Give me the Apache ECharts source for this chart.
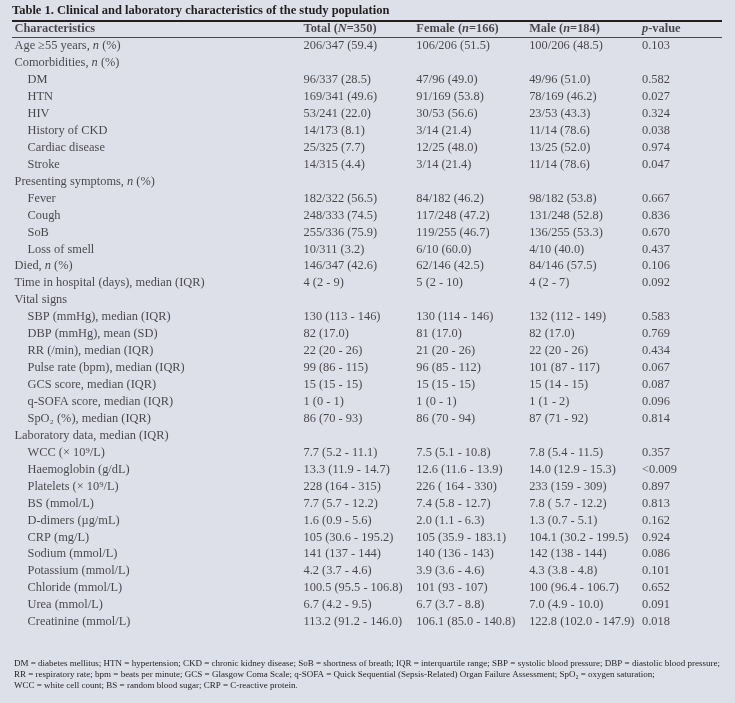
<!DOCTYPE html>
<html>
<head>
<meta charset="utf-8">
<script src="https://cdn.jsdelivr.net/npm/echarts@6/dist/echarts.min.js"></script>
<style>
  html, body { margin: 0; padding: 0; background: #dde0e9; }
  #chart { width: 735px; height: 703px; }
</style>
</head>
<body>
<div id="chart"></div>
<script>
// *x* marks italic text
var headers = ['Characteristics', 'Total (*N*=350)', 'Female (*n*=166)', 'Male (*n*=184)', '*p*-value']

var characteristics = [
    'Age \u226555 years, *n* (%)', 'Comorbidities, *n* (%)', 'DM', 'HTN', 'HIV', 'History of CKD',
    'Cardiac disease', 'Stroke', 'Presenting symptoms, *n* (%)', 'Fever', 'Cough', 'SoB', 'Loss of smell',
    'Died, *n* (%)', 'Time in hospital (days), median (IQR)', 'Vital signs', 'SBP (mmHg), median (IQR)',
    'DBP (mmHg), mean (SD)', 'RR (/min), median (IQR)', 'Pulse rate (bpm), median (IQR)',
    'GCS score, median (IQR)', 'q-SOFA score, median (IQR)', 'SpO\u2082 (%), median (IQR)',
    'Laboratory data, median (IQR)', 'WCC (\u00d7 10\u2079/L)', 'Haemoglobin (g/dL)', 'Platelets (\u00d7 10\u2079/L)',
    'BS (mmol/L)', 'D-dimers (\u00b5g/mL)', 'CRP (mg/L)', 'Sodium (mmol/L)', 'Potassium (mmol/L)',
    'Chloride (mmol/L)', 'Urea (mmol/L)', 'Creatinine (mmol/L)'
]
// 0 = group row, 1 = indented sub row
var levels = [0, 0, 1, 1, 1, 1, 1, 1, 0, 1, 1, 1, 1, 0, 0, 0, 1, 1, 1, 1, 1, 1, 1, 0, 1, 1, 1, 1, 1, 1, 1, 1, 1, 1, 1]

var total = [
    '206/347 (59.4)', '', '96/337 (28.5)', '169/341 (49.6)', '53/241 (22.0)', '14/173 (8.1)', '25/325 (7.7)',
    '14/315 (4.4)', '', '182/322 (56.5)', '248/333 (74.5)', '255/336 (75.9)', '10/311 (3.2)', '146/347 (42.6)',
    '4 (2 - 9)', '', '130 (113 - 146)', '82 (17.0)', '22 (20 - 26)', '99 (86 - 115)', '15 (15 - 15)',
    '1 (0 - 1)', '86 (70 - 93)', '', '7.7 (5.2 - 11.1)', '13.3 (11.9 - 14.7)', '228 (164 - 315)',
    '7.7 (5.7 - 12.2)', '1.6 (0.9 - 5.6)', '105 (30.6 - 195.2)', '141 (137 - 144)', '4.2 (3.7 - 4.6)',
    '100.5 (95.5 - 106.8)', '6.7 (4.2 - 9.5)', '113.2 (91.2 - 146.0)'
]
var female = [
    '106/206 (51.5)', '', '47/96 (49.0)', '91/169 (53.8)', '30/53 (56.6)', '3/14 (21.4)', '12/25 (48.0)',
    '3/14 (21.4)', '', '84/182 (46.2)', '117/248 (47.2)', '119/255 (46.7)', '6/10 (60.0)', '62/146 (42.5)',
    '5 (2 - 10)', '', '130 (114 - 146)', '81 (17.0)', '21 (20 - 26)', '96 (85 - 112)', '15 (15 - 15)',
    '1 (0 - 1)', '86 (70 - 94)', '', '7.5 (5.1 - 10.8)', '12.6 (11.6 - 13.9)', '226 ( 164 - 330)',
    '7.4 (5.8 - 12.7)', '2.0 (1.1 - 6.3)', '105 (35.9 - 183.1)', '140 (136 - 143)', '3.9 (3.6 - 4.6)',
    '101 (93 - 107)', '6.7 (3.7 - 8.8)', '106.1 (85.0 - 140.8)'
]
var male = [
    '100/206 (48.5)', '', '49/96 (51.0)', '78/169 (46.2)', '23/53 (43.3)', '11/14 (78.6)', '13/25 (52.0)',
    '11/14 (78.6)', '', '98/182 (53.8)', '131/248 (52.8)', '136/255 (53.3)', '4/10 (40.0)', '84/146 (57.5)',
    '4 (2 - 7)', '', '132 (112 - 149)', '82 (17.0)', '22 (20 - 26)', '101 (87 - 117)', '15 (14 - 15)',
    '1 (1 - 2)', '87 (71 - 92)', '', '7.8 (5.4 - 11.5)', '14.0 (12.9 - 15.3)', '233 (159 - 309)',
    '7.8 ( 5.7 - 12.2)', '1.3 (0.7 - 5.1)', '104.1 (30.2 - 199.5)', '142 (138 - 144)', '4.3 (3.8 - 4.8)',
    '100 (96.4 - 106.7)', '7.0 (4.9 - 10.0)', '122.8 (102.0 - 147.9)'
]
var pValues = [
    '0.103', '', '0.582', '0.027', '0.324', '0.038', '0.974', '0.047', '', '0.667', '0.836', '0.670', '0.437',
    '0.106', '0.092', '', '0.583', '0.769', '0.434', '0.067', '0.087', '0.096', '0.814', '', '0.357', '<0.009',
    '0.897', '0.813', '0.162', '0.924', '0.086', '0.101', '0.652', '0.091', '0.018'
]
var footnotes = [
    'DM = diabetes mellitus; HTN = hypertension; CKD = chronic kidney disease; SoB = shortness of breath; IQR = interquartile range; SBP = systolic blood pressure; DBP = diastolic blood pressure;',
    'RR = respiratory rate; bpm = beats per minute; GCS = Glasgow Coma Scale; q-SOFA = Quick Sequential (Sepsis-Related) Organ Failure Assessment; SpO\u2082 = oxygen saturation;',
    'WCC = white cell count; BS = random blood sugar; CRP = C-reactive protein.'
]

var FONT = '"Liberation Serif", "DejaVu Serif", serif'
var INK = '#231f20'

// turn *x* into rich italic pieces
function rich(str, bold) {
    return str.split('*').map((s, i) => {
        if (!s) return ''
        var k = (i % 2 ? 'i' : 'r') + (bold ? 'b' : '')
        return '{' + k + '|' + s.replace(/[{}|]/g, '') + '}'
    }).join('')
}
var richStyles = {
    r: { fontFamily: FONT, fontSize: 12.4, color: INK },
    i: { fontFamily: FONT, fontSize: 12.4, color: INK, fontStyle: 'italic' },
    rb: { fontFamily: FONT, fontSize: 12.4, color: INK, fontWeight: 'bold' },
    ib: { fontFamily: FONT, fontSize: 12.4, color: INK, fontWeight: 'bold', fontStyle: 'italic' }
}

var rows = ['header'].concat(characteristics.map((c, i) => 'r' + i))
var cols = [total, female, male, pValues]

var leftData = [{ value: [0, 0], name: rich(headers[0], true) }]
characteristics.forEach((c, i) => leftData.push({ value: [levels[i], i + 1], name: rich(c, false) }))

var rightData = []
headers.slice(1).forEach((h, j) => rightData.push({ value: [j, 0], name: rich(h, true) }))
cols.forEach((col, j) => col.forEach((v, i) => {
    if (v) rightData.push({ value: [j, i + 1], name: rich(v, false) })
}))

var label = {
    show: true, position: 'right', distance: 0, align: 'left', verticalAlign: 'middle',
    formatter: p => p.name, rich: richStyles
}

var myChart = echarts.init(document.getElementById('chart'))
myChart.setOption({
    backgroundColor: '#dde0e9',
    animation: false,
    title: {
        text: 'Table 1. Clinical and laboratory characteristics of the study population',
        left: 12, top: 4, padding: 0,
        textStyle: { fontFamily: FONT, fontSize: 12.5, fontWeight: 'bold', color: INK }
    },
    grid: [
        { left: 14, top: 29, width: 13, height: 593 },
        { left: 303, top: 29, width: 338.5, height: 593 }
    ],
    xAxis: [
        { gridIndex: 0, type: 'value', min: 0, max: 1, show: false },
        { gridIndex: 1, type: 'category', data: ['total', 'female', 'male', 'p'], boundaryGap: false, show: false }
    ],
    yAxis: [
        { gridIndex: 0, type: 'category', data: rows, inverse: true, boundaryGap: false, show: false },
        { gridIndex: 1, type: 'category', data: rows, inverse: true, boundaryGap: false, show: false }
    ],
    series: [
        {
            type: 'scatter', xAxisIndex: 0, yAxisIndex: 0, data: leftData, silent: true,
            symbolSize: 1, itemStyle: { color: 'rgba(0,0,0,0)' }, label: label
        },
        {
            type: 'scatter', xAxisIndex: 1, yAxisIndex: 1, data: rightData, silent: true,
            symbolSize: 1, itemStyle: { color: 'rgba(0,0,0,0)' }, label: label
        }
    ],
    graphic: [
        { type: 'line', shape: { x1: 12, y1: 21, x2: 722, y2: 21 }, style: { stroke: INK, lineWidth: 1.8 } },
        { type: 'line', shape: { x1: 12, y1: 37.5, x2: 722, y2: 37.5 }, style: { stroke: INK, lineWidth: 0.8 } }
    ].concat(footnotes.map((t, i) => ({
        type: 'text', left: 14, top: 659.5 + i * 11,
        style: { text: t, font: '9px ' + FONT, fill: INK }
    })))
})
window.onresize = myChart.resize
</script>
</body>
</html>
